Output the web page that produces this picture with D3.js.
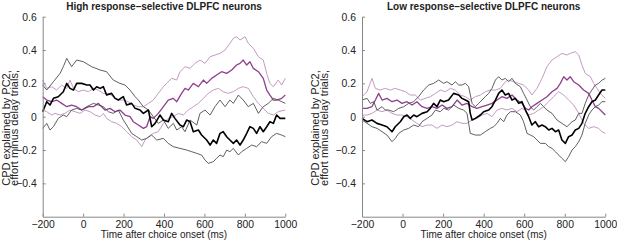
<!DOCTYPE html>
<html>
<head>
  <script src="https://d3js.org/d3.v7.min.js"></script>
  <style>
    body { margin: 0; background: #fff; }
    svg { display: block; font-family: 'Liberation Sans', Arial, sans-serif; }
    .axis path, .axis line { stroke: #888; }
    .axis text { fill: #222; font-size: 10.4px; }
    .title { font-size: 10px; font-weight: bold; fill: #222; }
    .lab { font-size: 10px; fill: #222; }
    .ylab { font-size: 11px; fill: #222; }
  </style>
</head>
<body>
<div id="chart"></div>
<script>
  // [time (ms), CPD]
  const hiUpper = [[-200,0.19],[-180,0.16],[-147,0.21],[-114,0.26],[-98,0.30],[-81,0.35],[-57,0.30],[-32,0.34],[1,0.33],[42,0.30],[84,0.28],[116,0.27],[149,0.22],[182,0.20],[207,0.19],[232,0.16],[257,0.12],[273,0.10],[298,0.06],[323,0.04],[347,0.0],[372,-0.04],[397,-0.02],[421,-0.07],[446,-0.04],[463,-0.08],[487,-0.06],[504,-0.09],[529,-0.02],[562,-0.05],[578,0.02],[603,0.04],[628,0.01],[652,0.06],[677,0.10],[702,0.06],[726,0.10],[743,0.08],[768,0.13],[792,0.10],[817,0.06],[842,0.08],[867,0.02],[891,0.06],[916,0.08],[941,0.11],[965,0.10],[1000,0.08]];
  const hiMean = [[-200,0.03],[-180,0.09],[-164,0.07],[-147,0.11],[-123,0.12],[-98,0.15],[-81,0.20],[-65,0.17],[-48,0.16],[-32,0.20],[-7,0.20],[18,0.19],[34,0.19],[51,0.16],[67,0.18],[84,0.17],[100,0.18],[116,0.13],[141,0.14],[158,0.11],[174,0.10],[199,0.12],[215,0.07],[240,0.08],[257,0.05],[281,0.04],[298,0.02],[323,0.04],[339,-0.06],[356,-0.04],[380,0.01],[397,-0.02],[421,-0.03],[438,0.02],[454,-0.01],[479,-0.05],[496,-0.06],[512,-0.02],[529,-0.03],[545,-0.09],[570,-0.08],[586,-0.11],[611,-0.14],[628,-0.17],[644,-0.14],[660,-0.16],[677,-0.10],[693,-0.09],[710,-0.12],[726,-0.14],[743,-0.16],[759,-0.14],[776,-0.17],[792,-0.14],[809,-0.10],[825,-0.06],[842,-0.07],[858,-0.10],[875,-0.06],[891,-0.09],[908,-0.06],[924,-0.03],[941,-0.04],[957,0.01],[974,-0.01],[1000,-0.01]];
  const hiLower = [[-200,-0.07],[-180,-0.04],[-164,-0.08],[-147,-0.06],[-123,-0.01],[-98,0.01],[-81,0.0],[-57,0.04],[-32,0.05],[-7,0.04],[18,0.06],[51,0.08],[75,0.07],[100,0.06],[125,0.03],[149,0.02],[174,0.04],[199,-0.02],[215,-0.05],[240,-0.10],[265,-0.12],[290,-0.14],[314,-0.13],[339,-0.11],[364,-0.14],[397,-0.13],[421,-0.16],[446,-0.18],[479,-0.19],[512,-0.20],[537,-0.21],[562,-0.22],[586,-0.23],[603,-0.26],[619,-0.28],[644,-0.27],[660,-0.25],[677,-0.23],[693,-0.24],[710,-0.20],[726,-0.21],[743,-0.19],[768,-0.23],[784,-0.21],[809,-0.19],[834,-0.17],[858,-0.18],[883,-0.15],[908,-0.16],[932,-0.12],[957,-0.10],[982,-0.11],[1000,-0.12]];
  const hiPurple = [[-200,0.12],[-180,0.10],[-155,0.09],[-131,0.10],[-106,0.08],[-81,0.06],[-57,0.07],[-32,0.06],[-7,0.04],[9,0.05],[26,0.06],[51,0.06],[75,0.08],[92,0.06],[108,0.04],[133,0.05],[158,0.03],[182,0.04],[207,0.01],[232,0.0],[248,-0.03],[273,-0.05],[298,-0.07],[314,-0.06],[331,0.0],[347,-0.01],[372,0.02],[397,0.06],[421,0.10],[446,0.11],[463,0.09],[487,0.14],[504,0.17],[520,0.16],[545,0.20],[570,0.18],[595,0.22],[611,0.20],[636,0.23],[660,0.25],[685,0.27],[710,0.26],[735,0.28],[759,0.31],[776,0.32],[792,0.34],[809,0.31],[825,0.33],[842,0.29],[867,0.27],[891,0.23],[908,0.16],[924,0.13],[941,0.10],[957,0.10],[982,0.11],[1000,0.13]];
  const hiPurpleUp = [[-200,0.22],[-180,0.17],[-155,0.18],[-131,0.16],[-106,0.19],[-81,0.17],[-65,0.22],[-48,0.17],[-24,0.15],[1,0.16],[26,0.15],[51,0.17],[75,0.16],[100,0.14],[125,0.14],[149,0.12],[174,0.10],[199,0.10],[224,0.09],[248,0.07],[273,0.06],[298,0.06],[323,0.08],[347,0.10],[372,0.14],[397,0.18],[413,0.20],[438,0.23],[463,0.22],[479,0.27],[504,0.30],[529,0.29],[553,0.32],[578,0.34],[603,0.32],[628,0.36],[652,0.37],[677,0.38],[702,0.40],[726,0.44],[743,0.47],[759,0.48],[776,0.46],[801,0.48],[817,0.44],[842,0.41],[867,0.36],[891,0.34],[908,0.26],[924,0.20],[941,0.18],[965,0.22],[982,0.19],[1000,0.23]];
  const hiPurpleLo = [[-200,0.04],[-180,0.03],[-155,0.01],[-139,0.02],[-114,0.01],[-90,0.02],[-65,0.04],[-40,0.03],[-15,0.02],[9,0.04],[34,0.03],[59,0.01],[84,0.0],[100,0.02],[116,-0.01],[141,-0.03],[166,-0.04],[191,-0.06],[215,-0.09],[240,-0.12],[265,-0.14],[290,-0.18],[306,-0.14],[323,-0.12],[347,-0.10],[372,-0.09],[397,-0.04],[421,-0.01],[446,0.0],[471,0.02],[496,0.01],[520,0.04],[545,0.06],[570,0.08],[595,0.11],[619,0.14],[644,0.16],[669,0.17],[693,0.15],[718,0.14],[743,0.15],[768,0.17],[792,0.18],[817,0.17],[842,0.12],[867,0.08],[891,0.05],[916,0.02],[941,0.01],[965,0.03],[1000,0.04]];

  const loUpper = [[-200,0.10],[-175,0.11],[-159,0.08],[-142,0.09],[-126,0.04],[-101,0.06],[-85,0.04],[-68,0.04],[-44,0.03],[-19,0.05],[6,0.06],[30,0.08],[55,0.09],[79,0.12],[104,0.16],[129,0.19],[153,0.20],[178,0.22],[203,0.20],[219,0.21],[244,0.19],[260,0.21],[277,0.19],[293,0.19],[310,0.20],[326,0.18],[343,0.08],[359,0.06],[375,0.08],[392,0.10],[408,0.12],[425,0.14],[441,0.17],[458,0.22],[474,0.24],[490,0.22],[507,0.23],[523,0.21],[540,0.23],[556,0.20],[581,0.18],[597,0.14],[614,0.10],[630,0.06],[647,0.04],[663,0.06],[680,0.08],[696,0.06],[712,0.04],[737,0.02],[762,-0.02],[786,-0.04],[811,-0.06],[836,-0.03],[852,-0.02],[869,0.02],[885,0.02],[901,0.08],[918,0.13],[934,0.16],[951,0.19],[967,0.20],[984,0.22],[1000,0.23]];
  const loMean = [[-200,-0.01],[-175,-0.03],[-151,-0.02],[-126,-0.04],[-101,-0.05],[-77,-0.06],[-52,-0.09],[-36,-0.06],[-11,-0.03],[6,0.0],[22,0.01],[38,-0.01],[55,0.01],[71,0.0],[96,0.02],[121,0.03],[137,0.05],[153,0.08],[170,0.06],[186,0.10],[203,0.09],[227,0.10],[252,0.14],[277,0.13],[293,0.11],[310,0.10],[326,0.09],[334,0.02],[343,-0.02],[359,-0.01],[384,0.01],[400,0.03],[425,0.04],[441,0.06],[458,0.10],[474,0.14],[490,0.16],[507,0.13],[523,0.14],[540,0.10],[556,0.11],[573,0.08],[589,0.09],[606,0.04],[622,0.0],[638,-0.05],[655,-0.03],[671,-0.06],[688,-0.05],[704,-0.06],[721,-0.08],[737,-0.07],[754,-0.09],[770,-0.08],[786,-0.14],[803,-0.16],[819,-0.12],[836,-0.11],[852,-0.08],[869,-0.07],[885,-0.04],[901,0.02],[918,0.06],[934,0.09],[951,0.10],[967,0.13],[984,0.16],[1000,0.16]];
  const loLower = [[-200,-0.02],[-175,-0.04],[-151,-0.06],[-126,-0.07],[-101,-0.09],[-77,-0.11],[-52,-0.15],[-36,-0.13],[-19,-0.10],[6,-0.08],[30,-0.07],[55,-0.05],[79,-0.06],[96,-0.03],[121,-0.01],[145,0.01],[162,0.04],[186,0.03],[203,0.05],[227,0.04],[252,0.07],[277,0.05],[301,0.04],[318,0.02],[326,-0.04],[334,-0.10],[359,-0.11],[384,-0.11],[408,-0.09],[433,-0.07],[449,-0.06],[466,-0.04],[482,-0.01],[499,-0.03],[515,0.01],[532,0.03],[556,0.03],[581,0.01],[597,-0.03],[614,-0.10],[630,-0.11],[647,-0.12],[663,-0.14],[680,-0.16],[704,-0.16],[721,-0.18],[737,-0.19],[754,-0.21],[770,-0.23],[786,-0.25],[803,-0.27],[819,-0.24],[836,-0.20],[852,-0.18],[869,-0.15],[885,-0.11],[901,-0.04],[918,0.01],[934,0.04],[951,0.06],[967,0.07],[984,0.09],[1000,0.09]];
  const loPurple = [[-200,0.05],[-175,0.05],[-151,0.06],[-134,0.10],[-118,0.14],[-101,0.10],[-77,0.11],[-52,0.09],[-27,0.10],[-3,0.08],[22,0.09],[47,0.07],[71,0.09],[96,0.06],[121,0.05],[145,0.06],[170,0.05],[195,0.07],[219,0.05],[244,0.06],[269,0.10],[293,0.07],[318,0.08],[343,0.06],[367,0.05],[392,0.06],[417,0.07],[441,0.08],[466,0.10],[490,0.12],[515,0.11],[540,0.13],[564,0.10],[589,0.08],[606,0.05],[622,0.04],[638,0.06],[663,0.08],[688,0.10],[712,0.12],[737,0.15],[762,0.17],[778,0.20],[795,0.24],[811,0.22],[827,0.24],[844,0.21],[869,0.19],[893,0.16],[918,0.14],[934,0.10],[951,0.06],[967,0.05],[984,0.03],[1000,0.01]];
  const loPurpleUp = [[-200,0.12],[-175,0.15],[-151,0.23],[-134,0.17],[-110,0.16],[-85,0.17],[-60,0.16],[-36,0.17],[-11,0.16],[14,0.15],[38,0.13],[63,0.13],[88,0.10],[112,0.11],[137,0.12],[162,0.14],[186,0.16],[211,0.15],[236,0.17],[260,0.16],[285,0.13],[310,0.12],[334,0.10],[359,0.12],[384,0.13],[408,0.15],[433,0.16],[458,0.16],[482,0.17],[507,0.21],[523,0.22],[548,0.21],[573,0.20],[597,0.19],[622,0.16],[638,0.13],[663,0.17],[688,0.23],[712,0.30],[737,0.34],[762,0.36],[786,0.38],[811,0.37],[827,0.38],[852,0.39],[869,0.37],[885,0.31],[901,0.26],[926,0.24],[943,0.20],[959,0.17],[975,0.14],[1000,0.11]];
  const loPurpleLo = [[-200,0.01],[-175,0.01],[-151,0.02],[-126,0.04],[-101,0.03],[-77,0.04],[-52,0.02],[-27,0.01],[-3,0.01],[22,0.0],[47,-0.02],[71,-0.04],[96,-0.06],[121,-0.05],[145,-0.05],[170,-0.07],[195,-0.05],[219,-0.06],[244,-0.05],[269,-0.03],[293,-0.04],[318,-0.04],[343,-0.02],[367,-0.01],[392,0.01],[417,0.02],[441,0.0],[466,0.04],[490,0.05],[515,0.04],[540,0.05],[564,0.03],[589,0.05],[606,0.04],[622,0.01],[647,0.02],[671,0.04],[696,0.06],[721,0.09],[745,0.12],[770,0.15],[795,0.13],[819,0.10],[844,0.07],[869,0.02],[893,-0.04],[918,-0.07],[943,-0.06],[967,-0.07],[984,-0.09],[1000,-0.10]];

  const xTicks = [-200, 0, 200, 400, 600, 800, 1000];
  const yTicks = [-0.4, -0.2, 0, 0.2, 0.4, 0.6];
  const titles = ["High response\u2013selective DLPFC neurons", "Low response\u2013selective DLPFC neurons"];
  const xLabel = "Time after choice onset (ms)";
  const yLabel = ["CPD explained by PC2,", "effort minus delay trials,"];

  const width = 617, height = 243;
  const svg = d3.select("#chart").append("svg")
    .attr("width", width)
    .attr("height", height);

  const panels = [
    { left: 42.7, right: 285.3, ylab: 9.5, title: titles[0],
      series: [hiPurpleUp, hiPurpleLo, hiPurple, hiUpper, hiLower, hiMean] },
    { left: 362, right: 605.3, ylab: 319, title: titles[1],
      series: [loPurpleUp, loPurpleLo, loPurple, loUpper, loLower, loMean] }
  ];
  // drawing order matches series order: light purple, purple, gray, black
  const styles = [
    { color: "#c49ac4", w: 1 },
    { color: "#c49ac4", w: 1 },
    { color: "#8e3f8e", w: 1.3 },
    { color: "#4d4d4d", w: 0.9 },
    { color: "#4d4d4d", w: 0.9 },
    { color: "#000", w: 1.6 }
  ];

  const plotTop = 16.7, plotBottom = 216.7;

  panels.forEach(p => {
    const x = d3.scaleLinear().domain([-200, 1000]).range([p.left, p.right]);
    const y = d3.scaleLinear().domain([-0.6, 0.6]).range([plotBottom, plotTop]);
    const g = svg.append("g");

    const line = d3.line().x(d => x(d[0])).y(d => y(d[1]));
    p.series.forEach((s, i) => {
      g.append("path")
        .datum(s)
        .attr("fill", "none")
        .attr("stroke", styles[i].color)
        .attr("stroke-width", styles[i].w)
        .attr("stroke-linejoin", "round")
        .attr("d", line);
    });

    g.append("g")
      .attr("class", "axis")
      .attr("transform", `translate(0,${plotBottom})`)
      .call(d3.axisBottom(x).tickValues(xTicks).tickFormat(d => d === -200 ? "\u2212200" : d)
        .tickSizeInner(-3).tickSizeOuter(0).tickPadding(4));

    g.append("g")
      .attr("class", "axis")
      .attr("transform", `translate(${p.left},0)`)
      .call(d3.axisLeft(y).tickValues(yTicks)
        .tickFormat(d => d === 0 ? "0" : (d < 0 ? "\u2212" : "") + Math.abs(d).toFixed(1))
        .tickSizeInner(-3).tickSizeOuter(0).tickPadding(6));

    const cx = (p.left + p.right) / 2;
    g.append("text")
      .attr("class", "title")
      .attr("x", cx)
      .attr("y", 10)
      .attr("text-anchor", "middle")
      .text(p.title);

    g.append("text")
      .attr("class", "lab")
      .attr("x", cx)
      .attr("y", 238)
      .attr("text-anchor", "middle")
      .text(xLabel);

    yLabel.forEach((t, i) => {
      g.append("text")
        .attr("class", "ylab")
        .attr("transform", `translate(${p.ylab + i * 8.5},128) rotate(-90)`)
        .attr("text-anchor", "middle")
        .text(t);
    });
  });
</script>
</body>
</html>
